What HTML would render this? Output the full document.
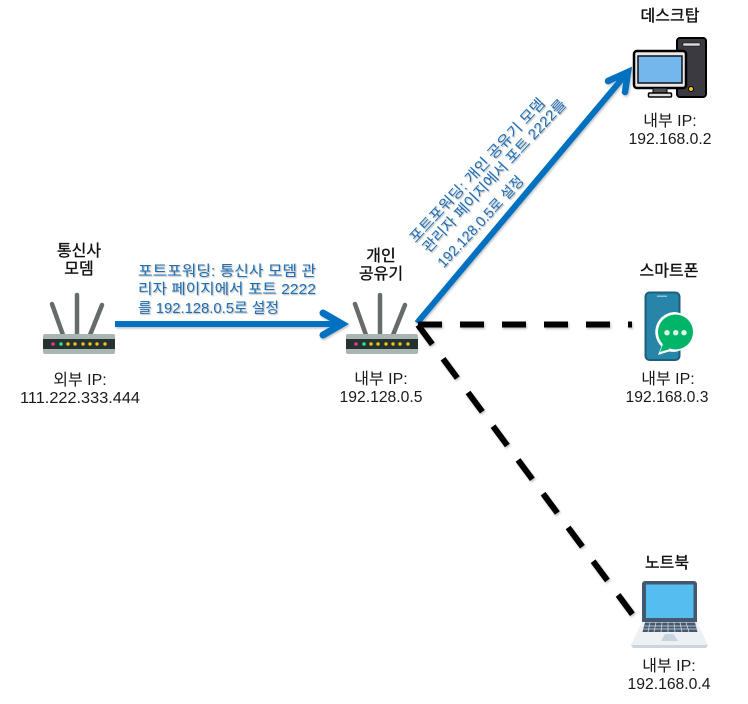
<!DOCTYPE html>
<html><head><meta charset="utf-8"><style>
html,body{margin:0;padding:0;background:#fff;width:748px;height:704px;overflow:hidden}
svg{display:block}
text{font-family:"Liberation Sans","Noto Sans CJK KR",sans-serif}
.t{font-size:16px;fill:#111;stroke:#111;stroke-width:.35;text-anchor:middle}
.k{font-size:16px;fill:#1a1a1a;text-anchor:middle}
.n{font-size:16px;fill:#1a1a1a;text-anchor:middle}
.b{font-size:14.500px;fill:#1f6fb5}
</style></head><body>
<svg width="748" height="704" viewBox="0 0 748 704" xmlns="http://www.w3.org/2000/svg">
<defs>
<filter id="s" x="-20%" y="-20%" width="140%" height="140%"><feDropShadow dx="1" dy="1.500" stdDeviation="1" flood-color="#000" flood-opacity=".25"/></filter>
<filter id="ts" x="-10%" y="-30%" width="120%" height="160%"><feDropShadow dx="1" dy="1" stdDeviation=".5" flood-color="#555" flood-opacity=".45"/></filter>
<g id="router">
<path d="M52 304L63 335M77 295V335M102 305L90 335" stroke="#666b6b" stroke-width="4.500" stroke-linecap="round" fill="none"/>
<rect x="43" y="334" width="72" height="20" rx="2" fill="#a9b5b0"/>
<rect x="43" y="339" width="72" height="10" fill="#243331"/>
<circle cx="53" cy="344" r="1.800" fill="#e8338f"/><circle cx="61" cy="344" r="1.800" fill="#2fe08a"/>
<g fill="#f2c10f"><circle cx="68" cy="344" r="1.700"/><circle cx="75" cy="344" r="1.700"/><circle cx="83" cy="344" r="1.700"/><circle cx="90" cy="344" r="1.700"/><circle cx="97" cy="344" r="1.700"/><circle cx="105" cy="344" r="1.700"/></g>
</g>
</defs>

<use href="#router"/>
<use href="#router" x="303"/>

<g filter="url(#s)" fill="none">
<path d="M115 324H342" stroke="#0070c0" stroke-width="6"/>
<path d="M323 313L342 324L323 335" stroke="#0070c0" stroke-width="7" stroke-linecap="round"/>
<path d="M417 323L627 73" stroke="#0070c0" stroke-width="6"/>
<path d="M608 81L628 72L625 92" stroke="#0070c0" stroke-width="6.500" stroke-linecap="round"/>
<path d="M418 324.500H632" stroke="#000" stroke-width="6" stroke-dasharray="24 18"/>
<path d="M418 325L633 615" stroke="#000" stroke-width="6" stroke-dasharray="24 18"/>
</g>

<!-- desktop -->
<rect x="677" y="38" width="29" height="59" rx="3" fill="#3b3a40" stroke="#000" stroke-width="2"/>
<rect x="683" y="43" width="17" height="3" fill="#ddd" stroke="#000" stroke-width=".5"/>
<circle cx="691" cy="89" r="2.500" fill="#f3c614" stroke="#000"/>
<rect x="634" y="51" width="52" height="37" rx="3" fill="#e9e9e9" stroke="#000" stroke-width="2.500"/>
<rect x="638" y="56" width="44" height="27" fill="#74b7ec" stroke="#111" stroke-width="1.500"/>
<rect x="653" y="88" width="14" height="5" fill="#555" stroke="#000"/>
<rect x="648.500" y="93" width="23" height="4" rx="1" fill="#ddd" stroke="#000" stroke-width="1.500"/>

<!-- phone -->
<rect x="645.500" y="292.500" width="34" height="67.500" rx="4" fill="#2685a8" stroke="#1b5f7c" stroke-width="2"/>
<rect x="657" y="295.500" width="10" height="1.500" fill="#8fc4d6"/>
<path d="M675 312a20 20 0 1 1-6 39.500l-11 3.500 3.500-8.500A20 20 0 0 1 675 312z" fill="#fff"/>
<circle cx="675.500" cy="332" r="17.500" fill="#00b46a"/>
<path d="M663 344l-3 8 10-3z" fill="#00b46a"/>
<g fill="#dff5ea"><circle cx="667" cy="332.700" r="2.700"/><circle cx="675.700" cy="332.700" r="2.700"/><circle cx="684" cy="332.700" r="2.700"/></g>

<!-- laptop -->
<path d="M642 622V584a3 3 0 0 1 3-3h49a3 3 0 0 1 3 3v38z" fill="#44586f"/>
<rect x="646" y="584.500" width="47.500" height="33.500" fill="#56bdf0"/>
<path d="M642 622H697L708 645H631z" fill="#eef1f4"/>
<path d="M645 622.500H695L697.500 632H642.500z" fill="#44586f"/>
<path d="M644.500 626H696M643.500 629H697" stroke="#d8dfe6" stroke-width=".7"/>
<path d="M650 622.500L648 632M656 622.500L654 632M662 622.500L661 632M668 622.500V632M674 622.500L675 632M680 622.500L682 632M686 622.500L689 632" stroke="#d8dfe6" stroke-width=".7"/>
<path d="M665 634H673.500L678 641H661z" fill="#c8d3e0"/>
<path d="M631 645H708L706 648H633z" fill="#cbd5e0"/>

<!-- labels -->
<text class="t" x="79" y="256">통신사</text>
<text class="t" x="79" y="274">모뎀</text>
<text class="k" x="80" y="385">외부 IP:</text>
<text class="n" x="80" y="403" textLength="120" lengthAdjust="spacingAndGlyphs">111.222.333.444</text>

<text class="t" x="381" y="261">개인</text>
<text class="t" x="381" y="279">공유기</text>
<text class="k" x="381" y="384">내부 IP:</text>
<text class="n" x="381" y="402" textLength="83" lengthAdjust="spacingAndGlyphs">192.128.0.5</text>

<text class="t" x="670" y="21">데스크탑</text>
<text class="k" x="670" y="126">내부 IP:</text>
<text class="n" x="670" y="144" textLength="83" lengthAdjust="spacingAndGlyphs">192.168.0.2</text>

<text class="t" x="669" y="276">스마트폰</text>
<text class="k" x="668" y="384">내부 IP:</text>
<text class="n" x="667" y="402" textLength="83" lengthAdjust="spacingAndGlyphs">192.168.0.3</text>

<text class="t" x="667" y="568">노트북</text>
<text class="k" x="669" y="671">내부 IP:</text>
<text class="n" x="669" y="689" textLength="83" lengthAdjust="spacingAndGlyphs">192.168.0.4</text>

<g filter="url(#ts)">
<text class="b" x="138" y="276" textLength="178" lengthAdjust="spacingAndGlyphs">포트포워딩: 통신사 모뎀 관</text>
<text class="b" x="138" y="294" textLength="178" lengthAdjust="spacingAndGlyphs">리자 페이지에서 포트 2222</text>
<text class="b" x="138" y="313" textLength="141" lengthAdjust="spacingAndGlyphs">를 192.128.0.5로 설정</text>

<text class="b" transform="translate(415.600 243.500) rotate(-47)" textLength="191" lengthAdjust="spacingAndGlyphs">포트포워딩: 개인 공유기 모뎀</text>
<text class="b" transform="translate(428.600 253.500) rotate(-47)" textLength="203" lengthAdjust="spacingAndGlyphs">관리자 페이지에서 포트 2222를</text>
<text class="b" transform="translate(443.600 268.500) rotate(-47)" textLength="119" lengthAdjust="spacingAndGlyphs">192.128.0.5로 설정</text>
</g>
</svg>
</body></html>
